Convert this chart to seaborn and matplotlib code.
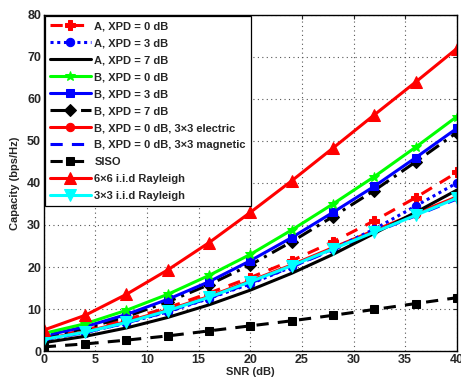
import matplotlib
matplotlib.use("Agg")
import matplotlib.pyplot as plt
import seaborn as sns
import pandas as pd

snr = [0, 4, 8, 12, 16, 20, 24, 28, 32, 36, 40]

a_xpd0 = [3.0, 5.0, 7.5, 10.3, 13.8, 17.5, 21.5, 26.0, 31.0, 36.5, 42.5]
a_xpd3 = [2.7, 4.4, 6.7, 9.3, 12.5, 16.0, 20.0, 24.3, 29.0, 34.5, 40.0]
a_xpd7 = [2.0, 3.5, 5.5, 8.0, 11.0, 14.5, 18.5, 23.0, 28.0, 33.0, 38.3]
b_xpd0 = [4.2, 6.5, 9.7, 13.5, 18.0, 23.0, 28.8, 35.0, 41.5, 48.5, 55.8]
b_xpd3 = [3.6, 5.8, 8.7, 12.3, 16.5, 21.5, 27.0, 33.0, 39.2, 46.0, 53.0]
b_xpd7 = [3.3, 5.4, 8.2, 11.7, 15.8, 20.5, 26.0, 32.0, 38.2, 45.0, 52.0]
b_elec = [2.9, 4.6, 7.0, 9.8, 13.0, 16.7, 20.5, 24.6, 28.7, 32.7, 36.7]
b_magn = [2.8, 4.4, 6.7, 9.4, 12.6, 16.2, 20.0, 24.1, 28.2, 32.2, 36.2]
siso = [1.0, 1.7, 2.6, 3.6, 4.8, 6.0, 7.2, 8.5, 9.9, 11.3, 12.7]
r6x6 = [5.0, 8.5, 13.5, 19.3, 25.8, 33.0, 40.5, 48.3, 56.2, 64.0, 72.0]
r3x3 = [2.8, 4.5, 6.8, 9.6, 12.8, 16.5, 20.3, 24.3, 28.3, 32.3, 36.4]

labels = ["A, XPD = 0 dB", "A, XPD = 3 dB", "A, XPD = 7 dB",
          "B, XPD = 0 dB", "B, XPD = 3 dB", "B, XPD = 7 dB",
          "B, XPD = 0 dB, 3\u00d73 electric", "B, XPD = 0 dB, 3\u00d73 magnetic",
          "SISO", "6\u00d76 i.i.d Rayleigh", "3\u00d73 i.i.d Rayleigh"]
series = [a_xpd0, a_xpd3, a_xpd7, b_xpd0, b_xpd3, b_xpd7, b_elec, b_magn, siso, r6x6, r3x3]

styles = [
    dict(color="#ff0000", linestyle=(0, (4, 3)), marker="P", markersize=7),
    dict(color="#0000ff", linestyle=(0, (1, 1.2)), marker="o", markersize=6),
    dict(color="#000000", linestyle="-", marker="", markersize=6),
    dict(color="#00ff00", linestyle="-", marker="*", markersize=7),
    dict(color="#0000ff", linestyle="-", marker="s", markersize=6),
    dict(color="#000000", linestyle=(0, (5, 2, 1, 2)), marker="D", markersize=6),
    dict(color="#ff0000", linestyle="-", marker="o", markersize=6),
    dict(color="#0000ff", linestyle=(0, (4, 3)), marker="", markersize=6),
    dict(color="#000000", linestyle=(0, (4, 3)), marker="s", markersize=6),
    dict(color="#ff0000", linestyle="-", marker="^", markersize=9),
    dict(color="#00ffff", linestyle="-", marker="v", markersize=9),
]

sns.set_theme(style="white")
plt.rcParams['font.family'] = ['Liberation Sans', 'DejaVu Sans']

fig = plt.figure(figsize=(4.61, 3.82), dpi=100)
ax = fig.add_axes([0.095, 0.081, 0.896, 0.88])

order = [6, 7, 0, 1, 2, 5, 4, 3, 8, 10, 9]
handles = {}
for i in order:
    df = pd.DataFrame({"snr": snr, "cap": series[i]})
    st = styles[i]
    sns.lineplot(data=df, x="snr", y="cap", ax=ax, color=st["color"],
                 linestyle=st["linestyle"], marker=st["marker"] if st["marker"] else None,
                 markersize=st["markersize"], markeredgecolor=st["color"],
                 markerfacecolor=st["color"], linewidth=2.2, label=labels[i],
                 legend=False)
    handles[i] = ax.lines[-1]

ax.set_xlim(0, 40)
ax.set_ylim(0, 80)
ax.set_xticks(range(0, 41, 5))
ax.set_yticks(range(0, 81, 10))
ax.grid(True, color="#555555", linestyle=(0, (1, 3)), linewidth=0.8)
ax.tick_params(direction="in", length=3, labelsize=9, width=0.8, top=True, right=True,
               pad=2)
for lab in ax.get_xticklabels() + ax.get_yticklabels():
    lab.set_fontweight("bold")
for sp in ax.spines.values():
    sp.set_color("black")
    sp.set_linewidth(1.0)
ax.set_xlabel("SNR (dB)", fontsize=8, fontweight="bold", labelpad=1)
ax.set_ylabel("Capacity (bps/Hz)", fontsize=8, fontweight="bold", labelpad=5)

leg = ax.legend([handles[i] for i in range(11)], labels, loc="upper left",
                numpoints=1, handlelength=3.7, frameon=True,
                fancybox=False, borderaxespad=0.1, labelspacing=0.63,
                handletextpad=0.3, borderpad=0.45,
                prop=dict(weight="bold", size=8))
leg.get_frame().set_edgecolor("black")
leg.get_frame().set_linewidth(0.9)
leg.get_frame().set_alpha(1)

fig.savefig("out.png", dpi=100)
